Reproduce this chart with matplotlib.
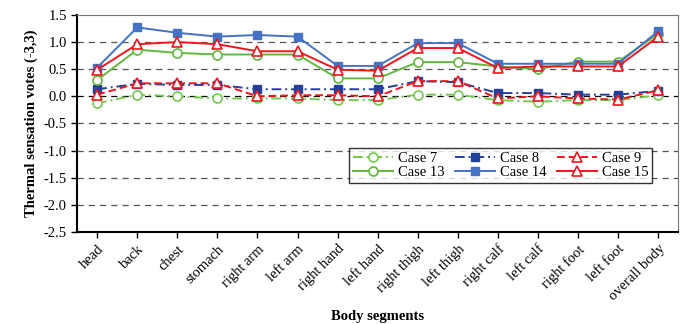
import matplotlib
matplotlib.use("Agg")
import matplotlib.pyplot as plt

plt.rcParams["font.family"] = ["Liberation Serif", "DejaVu Serif"]

segments = ["head", "back", "chest", "stomach", "right arm", "left arm",
            "right hand", "left hand", "right thigh", "left thigh",
            "right calf", "left calf", "right foot", "left foot", "overall body"]

case7 = [-0.13, 0.03, 0.00, -0.04, -0.04, -0.04, -0.07, -0.07,
         0.03, 0.03, -0.07, -0.10, -0.07, -0.07, 0.02]
case8 = [0.13, 0.23, 0.21, 0.21, 0.13, 0.13, 0.13, 0.13,
         0.28, 0.26, 0.06, 0.06, 0.03, 0.03, 0.10]
case9 = [0.03, 0.24, 0.24, 0.24, 0.00, 0.02, 0.02, 0.00,
         0.28, 0.28, -0.04, 0.00, -0.04, -0.06, 0.11]
case13 = [0.30, 0.86, 0.80, 0.77, 0.77, 0.77, 0.33, 0.33,
          0.63, 0.63, 0.55, 0.50, 0.64, 0.64, 1.15]
case14 = [0.53, 1.27, 1.17, 1.10, 1.13, 1.10, 0.56, 0.56,
          0.98, 0.98, 0.60, 0.60, 0.60, 0.60, 1.20]
case15 = [0.49, 0.96, 1.00, 0.96, 0.83, 0.83, 0.49, 0.47,
          0.89, 0.89, 0.52, 0.55, 0.55, 0.55, 1.10]

green_light = "#74C850"
green = "#62B83E"
navy = "#23409A"
blue = "#4472C4"
red = "#F0161E"

x = list(range(len(segments)))

fig = plt.figure(figsize=(6.83, 3.24), dpi=100)
ax = fig.add_axes([0.113, 0.284, 0.880, 0.670])

# dashed "before" cases
l7, = ax.plot(x, case7, color=green_light, linestyle=(0, (5, 2, 1, 2)), lw=1.4,
              marker="o", ms=6.5, mfc="white", mew=1.2, label="Case 7")
l8, = ax.plot(x, case8, color=navy, linestyle=(0, (5, 2, 1, 2)), lw=1.4,
              marker="s", ms=5.5, label="Case 8")
l9, = ax.plot(x, case9, color=red, linestyle=(0, (4, 2)), lw=1.4,
              marker="^", ms=7, mfc="white", mew=1.2, label="Case 9")
# solid cases
l13, = ax.plot(x, case13, color=green, lw=1.4,
               marker="o", ms=6.5, mfc="white", mew=1.2, label="Case 13")
l14, = ax.plot(x, case14, color=blue, lw=1.4,
               marker="s", ms=5.5, label="Case 14")
l15, = ax.plot(x, case15, color=red, lw=1.4,
               marker="^", ms=7, mfc="white", mew=1.2, label="Case 15")

ax.set_xlim(-0.5, 14.5)
ax.set_ylim(-2.5, 1.5)
yt = [1.5, 1.0, 0.5, 0.0, -0.5, -1.0, -1.5, -2.0, -2.5]
ax.set_yticks(yt)
ax.set_yticklabels(["%.1f" % v for v in yt], fontsize=10.5)
ax.set_xticks(x)
ax.set_xticklabels(segments, rotation=45, ha="right", rotation_mode="anchor", fontsize=10.5)

for v in [1.0, 0.5, -0.5, -1.0, -1.5, -2.0]:
    ax.axhline(v, color="#555555", linestyle=(0, (5, 4)), lw=0.9, zorder=0)
ax.axhline(0.0, color="black", linestyle=(0, (5, 4)), lw=0.9, zorder=0)

ax.tick_params(direction="out", length=4, width=1)
ax.spines["left"].set_linewidth(1.5)
ax.spines["bottom"].set_linewidth(1.5)
ax.spines["top"].set_color("#777777")
ax.spines["right"].set_color("#777777")

ax.set_ylabel("Thermal sensation votes (-3,3)", fontsize=10.5, fontweight="bold")
ax.set_xlabel("Body segments", fontsize=10.5, fontweight="bold", labelpad=5)

# rows: 7 8 9 / 13 14 15 (legend fills column by column)
handles = [l7, l13, l8, l14, l9, l15]
leg = ax.legend(handles, [h.get_label() for h in handles], ncol=3,
                loc="upper left", bbox_to_anchor=(0.44, 0.42),
                fontsize=10.5, frameon=True, fancybox=False, edgecolor="black",
                handlelength=2.8, columnspacing=0.7, labelspacing=0.05,
                borderpad=0.25, handletextpad=0.3)
leg.get_frame().set_linewidth(1.0)

fig.savefig("out.png", dpi=100)
